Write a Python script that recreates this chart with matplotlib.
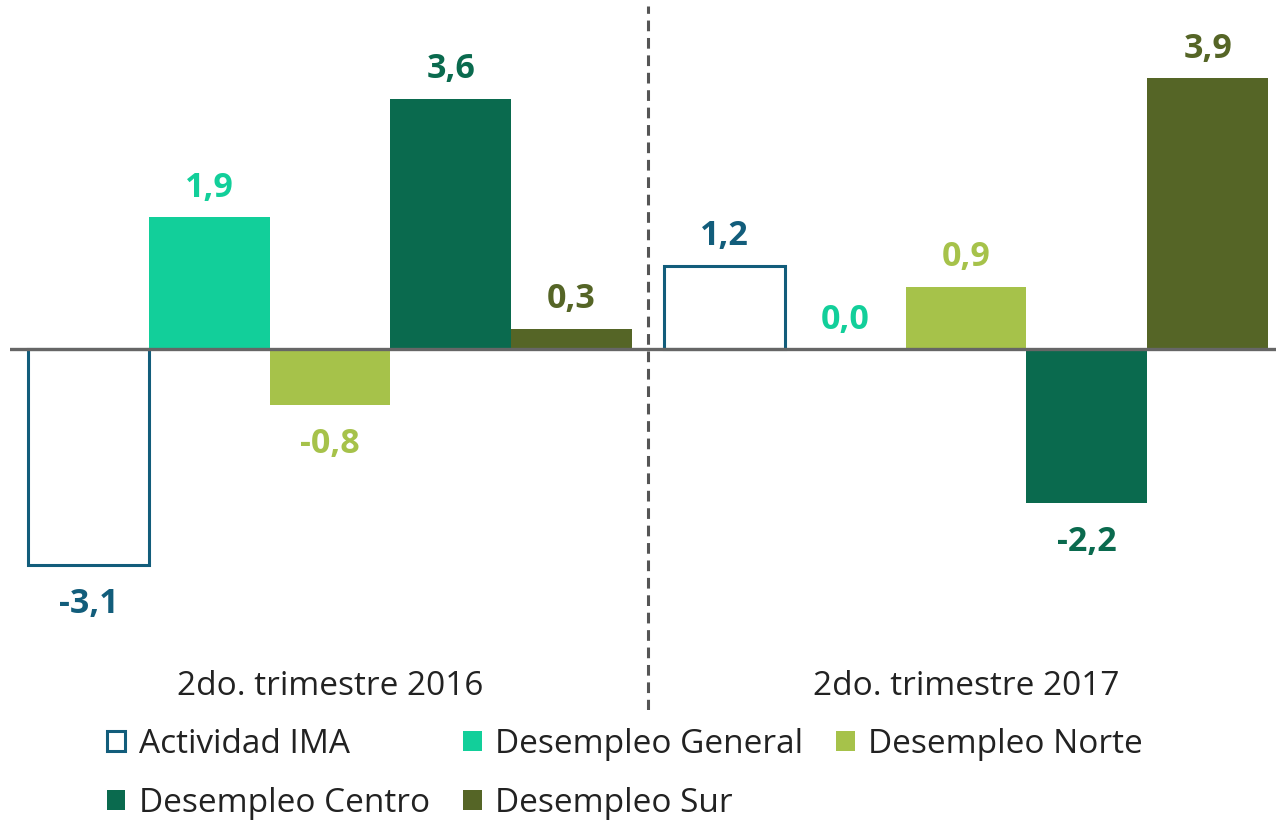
import numpy as np
import matplotlib.pyplot as plt

# data
periodos = ["2do. trimestre 2016", "2do. trimestre 2017"]
series = ["Actividad IMA", "Desempleo General", "Desempleo Norte",
          "Desempleo Centro", "Desempleo Sur"]
ima = [-3.1, 1.2]
general = [1.9, 0.0]
norte = [-0.8, 0.9]
centro = [3.6, -2.2]
sur = [0.3, 3.9]

valores = [ima, general, norte, centro, sur]
colores = ["#125d7b", "#12cf9a", "#a6c24a", "#0a6a4e", "#556526"]

plt.rcParams['font.family'] = ['Open Sans', 'DejaVu Sans']

fig = plt.figure(figsize=(12.76, 8.23), dpi=100)
ax = fig.add_axes([10 / 1276, 0.1373, 1 - 10 / 1276, 0.855])

x = np.arange(len(periodos))
w = 0.19

handles = []
for i, (nombre, vals, col) in enumerate(zip(series, valores, colores)):
    pos = x + (i - 2) * w
    if i == 0:
        bars = ax.bar(pos, vals, w, facecolor="white", edgecolor=col,
                      linewidth=2.2, label=nombre, zorder=2)
    else:
        bars = ax.bar(pos, vals, w, color=col, label=nombre, zorder=2)
    handles.append(bars)
    # value labels, comma as decimal mark
    for px, v in zip(pos, vals):
        txt = f"{v:.1f}".replace(".", ",")
        if v >= 0:
            ax.annotate(txt, (px, v), xytext=(0, 9), textcoords="offset points",
                        ha="center", va="bottom", color=col, fontsize=24.5,
                        fontweight="bold")
        else:
            ax.annotate(txt, (px, v), xytext=(0, -16), textcoords="offset points",
                        ha="center", va="top", color=col, fontsize=24.5,
                        fontweight="bold")

# zero line and divider
ax.axhline(0, color="#666666", linewidth=2.4, zorder=3)
ax.axvline(0.5, color="#555555", linewidth=2.2, linestyle=(0, (3.5, 2.2)), zorder=1)

for xi, p in zip(x, periodos):
    ax.text(xi, -4.84, p, ha="center", va="center", fontsize=24, color="#222222")

ax.set_xlim(-0.5033, 1.4876)
ax.set_ylim(-5.18, 4.93)
ax.axis("off")

# legend filled row by row: IMA, General, Norte / Centro, Sur
orden = [0, 3, 1, 4, 2]
leg = fig.legend([handles[k] for k in orden], [series[k] for k in orden],
                 loc="upper left", bbox_to_anchor=(0.0839, 1 - 728 / 823), ncol=3,
                 frameon=False, fontsize=24, handlelength=0.55, handleheight=0.55,
                 handletextpad=0.4, columnspacing=1.0, labelspacing=0.78,
                 borderaxespad=0, borderpad=0)
for t in leg.get_texts():
    t.set_color("#222222")

fig.savefig("out.png", dpi=100)
